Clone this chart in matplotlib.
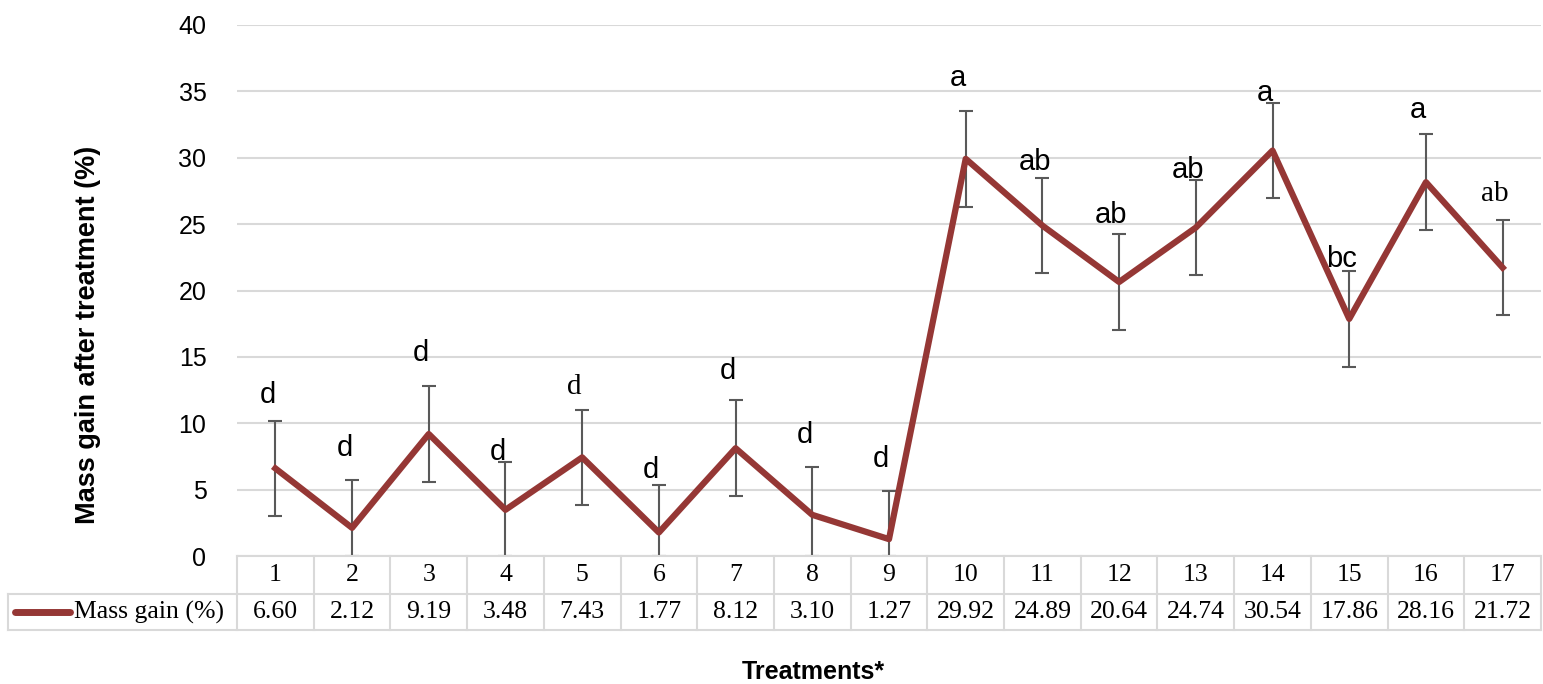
import matplotlib.pyplot as plt
from matplotlib.lines import Line2D

treatments = list(range(1, 18))
mass_gain = [6.60, 2.12, 9.19, 3.48, 7.43, 1.77, 8.12, 3.10, 1.27,
             29.92, 24.89, 20.64, 24.74, 30.54, 17.86, 28.16, 21.72]
err = 3.6
letters = ['d', 'd', 'd', 'd', 'd', 'd', 'd', 'd', 'd',
           'a', 'ab', 'ab', 'ab', 'a', 'bc', 'a', 'ab']
letter_y = [12.1, 8.1, 15.3, 7.8, 12.7, 6.5, 13.9, 9.1, 7.3,
            36.0, 29.7, 25.7, 29.1, 34.9, 22.4, 33.6, 27.3]
serif_letters = {5, 17}

W, H = 1543, 684
fig = plt.figure(figsize=(W / 100, H / 100), dpi=100)
ax = fig.add_axes([237 / W, 1 - 556 / H, (1541 - 237) / W, (556 - 25) / H])

line_col = '#953735'
grid_col = '#d9d9d9'
sans = 'Liberation Sans'
serif = 'Liberation Serif'

ax.set_xlim(0.5, 17.5)
ax.set_ylim(0, 40)
ax.set_yticks(range(0, 41, 5))
ax.grid(axis='y', color=grid_col, lw=1.5)
ax.set_axisbelow(True)
for s in ax.spines.values():
    s.set_visible(False)
ax.tick_params(axis='y', length=0, pad=22, labelsize=18)
ax.set_xticks([])
for lab in ax.get_yticklabels():
    lab.set_fontfamily(sans)

lower = [min(err, v) for v in mass_gain]
ax.errorbar(treatments, mass_gain, yerr=[lower, [err] * len(mass_gain)],
            fmt='none', ecolor='#595959', elinewidth=1.5, capsize=5, capthick=1.5, zorder=2)
ax.plot(treatments, mass_gain, color=line_col, lw=4.5, zorder=3)

for t, lab, y in zip(treatments, letters, letter_y):
    fam = serif if t in serif_letters else sans
    ax.text(t - 0.1, y, lab, ha='center', va='center', fontsize=21, fontfamily=fam)

# data table below the plot
tr = ax.get_xaxis_transform()
ax_h = 556 - 25
r1 = -38 / ax_h
r2 = -74 / ax_h
x_left = 0.5 - (237 - 8) / ((1541 - 237) / 17)
tbl_kw = dict(color=grid_col, lw=1.5, transform=tr, clip_on=False)
ax.add_line(Line2D([0.5, 17.5], [0, 0], **tbl_kw))
ax.add_line(Line2D([x_left, 17.5], [r1, r1], **tbl_kw))
ax.add_line(Line2D([x_left, 17.5], [r2, r2], **tbl_kw))
ax.add_line(Line2D([x_left, x_left], [r1, r2], **tbl_kw))
for k in range(18):
    ax.add_line(Line2D([k + 0.5, k + 0.5], [0, r2], **tbl_kw))

for t, v in zip(treatments, mass_gain):
    ax.text(t, r1 / 2, str(t), transform=tr, ha='center', va='center',
            fontsize=18.5, fontfamily=serif, clip_on=False)
    ax.text(t, (r1 + r2) / 2, f'{v:.2f}', transform=tr, ha='center', va='center',
            fontsize=18.5, fontfamily=serif, clip_on=False)

ym = 1 - 612 / H
fig.add_artist(Line2D([15 / W, 70 / W], [ym, ym], color=line_col, lw=5,
                      solid_capstyle='round'))
fig.text(74 / W, ym, 'Mass gain (%)', ha='left', va='center', fontsize=18.5, fontfamily=serif)

fig.text(88 / W, 1 - 335 / H, 'Mass gain after treatment (%)', rotation=90,
         ha='center', va='center', fontsize=19.5, fontweight='bold', fontfamily=sans)
fig.text(813 / W, 1 - 672 / H, 'Treatments*', ha='center', va='center',
         fontsize=18, fontweight='bold', fontfamily=sans)

fig.savefig('out.png', dpi=100)
